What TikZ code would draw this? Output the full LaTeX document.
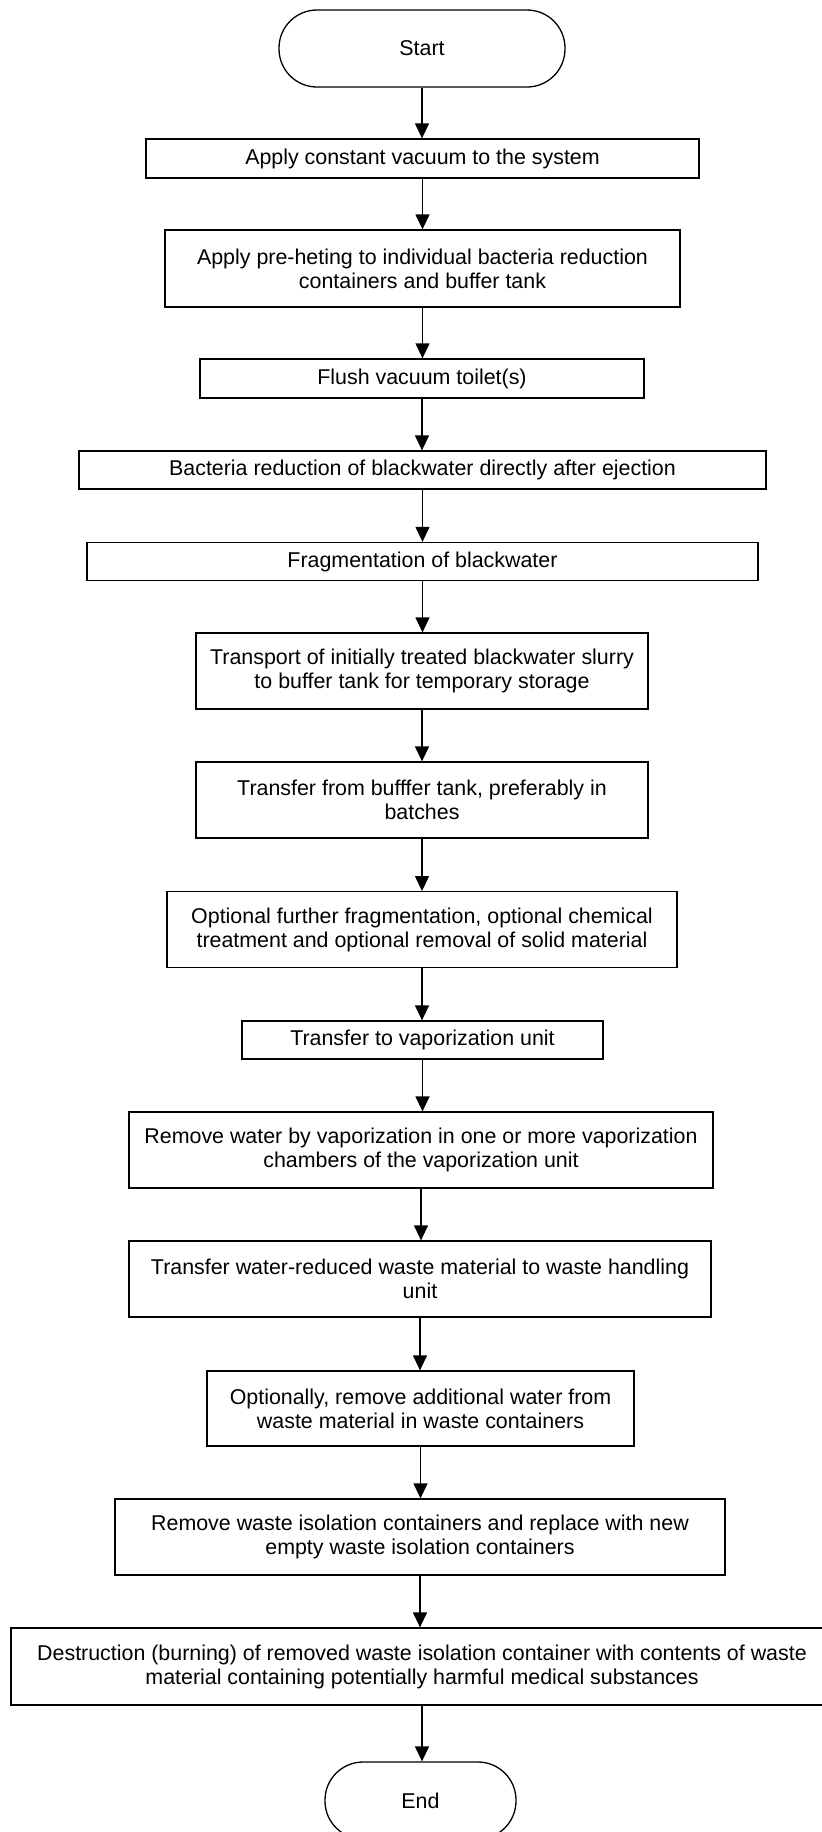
\documentclass[tikz,border=0pt]{standalone}
\usepackage{fontspec}
\setmainfont{Liberation Sans}
\usetikzlibrary{arrows.meta}

\begin{document}
\begin{tikzpicture}[x=0.5pt,y=-0.5pt,
  every node/.style={font=\fontsize{10.7}{12}\selectfont, align=center, inner sep=0pt},
  stepbox/.style={draw, line width=0.65pt},
  terminal/.style={draw, line width=0.65pt, rounded corners=19pt},
  flow/.style={-{Triangle[length=7.5pt,width=7pt]}, line width=0.65pt}]
\useasboundingbox (0,0) rectangle (821,1832);

\node[terminal, minimum width=143pt, minimum height=38.5pt] (start) at (422,48.5) {Start};
\node[stepbox, minimum width=276.5pt, minimum height=19.5pt] (vac) at (422.5,158.5) {Apply constant vacuum to the system};
\node[stepbox, minimum width=257.5pt, minimum height=38.5pt] (preheat) at (422.5,268.5) {Apply pre-heting to individual bacteria reduction\\containers and buffer tank};
\node[stepbox, minimum width=222pt, minimum height=19.5pt] (flush) at (422,378.5) {Flush vacuum toilet(s)};
\node[stepbox, minimum width=343.5pt, minimum height=19pt] (bact) at (422.5,470) {Bacteria reduction of blackwater directly after ejection};
\node[stepbox, minimum width=335.5pt, minimum height=19pt] (frag) at (422.5,561.5) {Fragmentation of blackwater};
\node[stepbox, minimum width=226pt, minimum height=38pt] (transport) at (422,671) {Transport of initially treated blackwater slurry\\to buffer tank for temporary storage};
\node[stepbox, minimum width=226pt, minimum height=38pt] (buffer) at (422,800) {Transfer from bufffer tank, preferably in\\batches};
\node[stepbox, minimum width=255pt, minimum height=37.8pt] (optfrag) at (422,929.5) {Optional further fragmentation, optional chemical\\treatment and optional removal of solid material};
\node[stepbox, minimum width=180.5pt, minimum height=19pt] (tovap) at (422.5,1040) {Transfer to vaporization unit};
\node[stepbox, minimum width=292pt, minimum height=38pt] (vapor) at (421,1150) {Remove water by vaporization in one or more vaporization\\chambers of the vaporization unit};
\node[stepbox, minimum width=291pt, minimum height=38pt] (towaste) at (420,1279) {Transfer water-reduced waste material to waste handling\\unit};
\node[stepbox, minimum width=213.5pt, minimum height=37.5pt] (dewater) at (420.5,1408.5) {Optionally, remove additional water from\\waste material in waste containers};
\node[stepbox, minimum width=305pt, minimum height=38pt] (replace) at (420,1537) {Remove waste isolation containers and replace with new\\empty waste isolation containers};
\node[stepbox, minimum width=411pt, minimum height=38.5pt] (burn) at (422,1666.5) {Destruction (burning) of removed waste isolation container with contents of waste\\material containing potentially harmful medical substances};
\node[terminal, minimum width=95.5pt, minimum height=38.5pt] (stop) at (420.5,1800.5) {End};

\foreach \a/\b in {start/vac, vac/preheat, preheat/flush, flush/bact, bact/frag, frag/transport,
  transport/buffer, buffer/optfrag, optfrag/tovap, tovap/vapor, vapor/towaste,
  towaste/dewater, dewater/replace, replace/burn, burn/stop}
  \draw[flow] (\a) -- (\a |- \b.north);
\end{tikzpicture}
\end{document}
